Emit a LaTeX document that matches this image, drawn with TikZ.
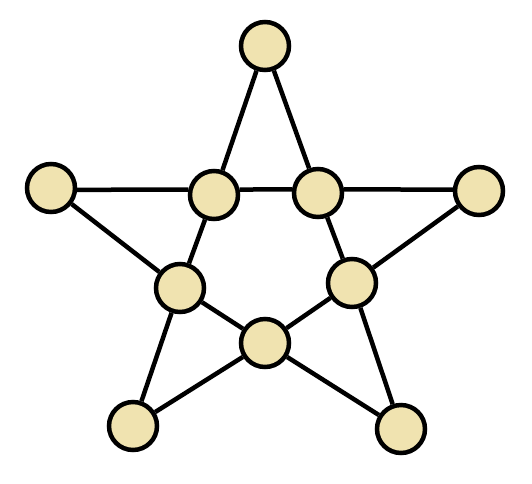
\documentclass[tikz,border=0pt]{standalone}
\definecolor{nodefill}{RGB}{240,227,176}
\begin{document}
\begin{tikzpicture}[x=1pt,y=-1pt,
  vert/.style={circle,draw=black,fill=nodefill,line width=4.5pt,minimum size=48pt,inner sep=0pt},
  edge/.style={line width=4.5pt}]
\useasboundingbox (0,0) rectangle (532,483);
\node[vert] (T) at (265,46) {};
\node[vert] (L) at (51,188) {};
\node[vert] (R) at (479,191) {};
\node[vert] (BL) at (133,426) {};
\node[vert] (BR) at (401,429) {};
\node[vert] (A) at (214,195) {};
\node[vert] (B) at (318,193) {};
\node[vert] (C) at (180,288) {};
\node[vert] (D) at (352,283) {};
\node[vert] (E) at (265,343) {};
\draw[edge] (T) -- (A);
\draw[edge] (T) -- (B);
\draw[edge] (L.-4) -- (A.168);
\draw[edge] (A.12) -- (B.172);
\draw[edge] (B.8) -- (R.177);
\draw[edge] (L) -- (C);
\draw[edge] (R) -- (D);
\draw[edge] (A) -- (C);
\draw[edge] (B) -- (D);
\draw[edge] (C) -- (BL);
\draw[edge] (C) -- (E);
\draw[edge] (E) -- (D);
\draw[edge] (E) -- (BL);
\draw[edge] (E) -- (BR);
\draw[edge] (D) -- (BR);
\end{tikzpicture}
\end{document}
